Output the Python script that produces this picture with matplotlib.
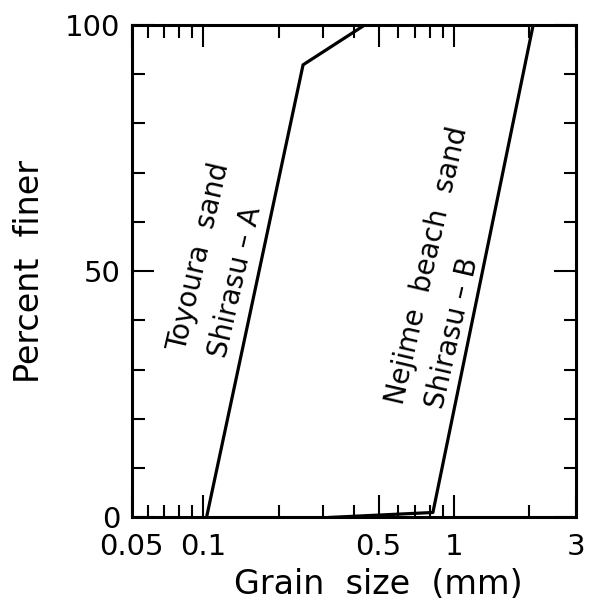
import numpy as np
import matplotlib
matplotlib.use('Agg')
import matplotlib.pyplot as plt
from matplotlib.ticker import FixedLocator, NullFormatter

# grain size distribution curves (mm, percent finer)
sand_a_size = [0.103, 0.250, 0.441]
sand_a_finer = [0, 91.9, 100]
sand_b_size = [0.32, 0.824, 2.07]
sand_b_finer = [0, 1.0, 100]

x_ticks = [0.0518, 0.1, 0.5, 1, 3.06]
x_ticklabels = ['0.05', '0.1', '0.5', '1', '3']
x_minor = [0.06, 0.07, 0.08, 0.09, 0.2, 0.3, 0.4, 0.6, 0.7, 0.8, 0.9, 2]
y_ticks = [0, 50, 100]
y_minor = [10, 20, 30, 40, 60, 70, 80, 90]

plt.rcParams['font.family'] = ['DejaVu Sans']

fig = plt.figure(figsize=(5.92, 6.08), dpi=100)
ax = fig.add_axes([0.2225, 0.149, 0.7500, 0.810])

ax.plot(sand_a_size, sand_a_finer, color='black', lw=2.3)
ax.plot(sand_b_size, sand_b_finer, color='black', lw=2.3)

ax.set_xscale('log')
ax.set_xlim(x_ticks[0], x_ticks[-1])
ax.set_ylim(0, 100)

ax.xaxis.set_major_locator(FixedLocator(x_ticks))
ax.set_xticklabels(x_ticklabels)
ax.xaxis.set_minor_locator(FixedLocator(x_minor))
ax.xaxis.set_minor_formatter(NullFormatter())
ax.set_yticks(y_ticks)
ax.set_yticks(y_minor, minor=True)

ax.tick_params(which='both', direction='in', top=True, right=True,
               labelsize=21, width=1.5)
ax.tick_params(axis='x', pad=11)
ax.tick_params(axis='y', pad=8)
ax.tick_params(which='major', length=16)
ax.tick_params(which='minor', length=9)
for s in ax.spines.values():
    s.set_linewidth(2.2)

ax.set_xlabel('Grain  size  (mm)', fontsize=24)
ax.xaxis.set_label_coords(0.556, -0.103)
ax.set_ylabel('Percent  finer', fontsize=24, labelpad=14)

# labels along the curves
rot = 77
kw = dict(rotation=rot, fontsize=20, ha='center', va='center',
          rotation_mode='anchor')
ax.text(0.0961, 52.8, 'Toyoura  sand', **kw)
ax.text(0.135, 47.8, 'Shirasu – A', **kw)
ax.text(0.780, 51.2, 'Nejime  beach  sand', **kw)
ax.text(0.991, 37.4, 'Shirasu – B', **kw)

fig.savefig('out.png', dpi=100)
